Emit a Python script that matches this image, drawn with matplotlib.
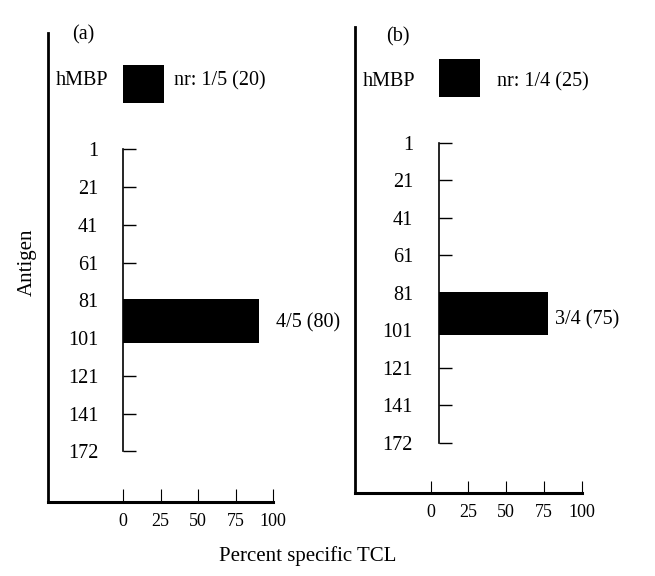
import matplotlib
matplotlib.use("Agg")
import matplotlib.pyplot as plt

# ---- data ----
antigens = ["1", "21", "41", "61", "81", "101", "121", "141", "172"]
pct_ticks = [0, 25, 50, 75, 100]
panel_labels = ["(a)", "(b)"]
hmbp_values = [27, 27]
hmbp_texts = ["nr: 1/5 (20)", "nr: 1/4 (25)"]
peptide_values = [90, 72]          # bar spanning antigens 81-101
peptide_texts = ["4/5 (80)", "3/4 (75)"]

plt.rcParams['font.family'] = ['Liberation Serif', 'DejaVu Serif']

W, H = 655, 576
fig = plt.figure(figsize=(W / 100, H / 100), dpi=100)


def px_axes(x0, y0, x1, y1):
    return fig.add_axes([x0 / W, 1 - y1 / H, (x1 - x0) / W, (y1 - y0) / H])


# layout per panel (pixels)
layouts = [
    dict(frame=(47.7, 33, 273.3, 501.7), inner_x=123.3, ppu=1.506, iy0=149.3, step=37.75,
         xpad=8, ypad=18, blen=9.2, label=(83.7, 35),
         hm_off=(-11, 2.6), hm_txt=(7, 2.6), pep_txt=(12, -1.5)),
    dict(frame=(355.2, 27, 581.7, 493.3), inner_x=439.3, ppu=1.51, iy0=142.7, step=37.5,
         xpad=7.5, ypad=19, blen=8.4, label=(398, 37),
         hm_off=(-17.5, -2.4), hm_txt=(12, -2.4), pep_txt=(5, -4.5)),
]

i81 = antigens.index("81")
i101 = antigens.index("101")
pep_center = (i81 + i101) / 2 + 0.05
pep_height = 1.16
hm_pos = -1.72
hm_height = 1.0
fs = 14.5

for k, L in enumerate(layouts):
    # outer frame with percentage scale
    fx0, fy0, fx1, fy1 = L['frame']
    fr = px_axes(fx0, fy0, fx1, fy1)
    fr.set_facecolor('none')
    fr.set_xlim(-50, 100)
    fr.set_ylim(0, 1)
    fr.set_xticks(pct_ticks)
    fr.set_xticklabels([str(t) for t in pct_ticks])
    fr.set_yticks([])
    for s in ['top', 'right']:
        fr.spines[s].set_visible(False)
    fr.spines['left'].set_linewidth(2.0)
    fr.spines['bottom'].set_linewidth(2.2)
    fr.tick_params(axis='x', direction='in', length=L['blen'], width=0.8,
                   labelsize=13, pad=L['xpad'])

    # inner antigen axis with bars
    x0 = L['inner_x']
    ax = px_axes(x0, L['iy0'] - 2.5 * L['step'], x0 + 100 * L['ppu'], L['iy0'] + 8.5 * L['step'])
    ax.set_facecolor('none')
    ax.set_xlim(0, 100)
    ax.set_ylim(8.5, -2.5)
    ax.set_xticks([])
    ax.set_yticks(range(len(antigens)))
    ax.set_yticklabels(antigens)
    for s in ['top', 'right', 'bottom']:
        ax.spines[s].set_visible(False)
    ax.spines['left'].set_linewidth(1.2)
    ax.spines['left'].set_bounds(0, len(antigens) - 1)
    ax.tick_params(axis='y', direction='in', length=9.2, width=1.0, labelsize=fs, pad=L['ypad'])

    ax.barh([hm_pos], [hmbp_values[k]], height=hm_height, color='black', zorder=3)
    ax.barh([pep_center], [peptide_values[k]], height=pep_height, color='black', zorder=3)

    ax.annotate("hMBP", xy=(0, hm_pos), xytext=L['hm_off'], textcoords='offset points',
                ha='right', va='center', fontsize=fs, annotation_clip=False)
    ax.annotate(hmbp_texts[k], xy=(hmbp_values[k], hm_pos), xytext=L['hm_txt'],
                textcoords='offset points', ha='left', va='center', fontsize=fs,
                annotation_clip=False)
    ax.annotate(peptide_texts[k], xy=(peptide_values[k], pep_center), xytext=L['pep_txt'],
                textcoords='offset points', ha='left', va='center', fontsize=fs,
                annotation_clip=False)

    lx, ly = L['label']
    fig.text(lx / W, 1 - ly / H, panel_labels[k], ha='center', va='center', fontsize=fs)

fig.text(27 / W, 1 - 262 / H, "Antigen", rotation=90, ha='center', va='center', fontsize=15)
fig.text(308 / W, 1 - 556 / H, "Percent specific TCL", ha='center', va='center', fontsize=15)

fig.savefig("out.png", dpi=100)
